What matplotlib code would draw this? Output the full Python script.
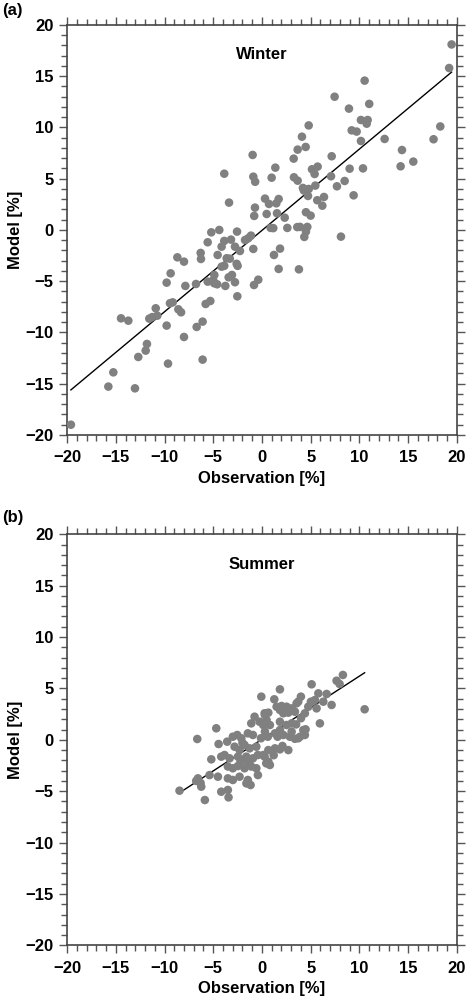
import numpy as np
import matplotlib
matplotlib.use('Agg')
import matplotlib.pyplot as plt
from matplotlib.ticker import MultipleLocator

plt.rcParams['font.family'] = ['Liberation Sans', 'DejaVu Sans']
plt.rcParams['font.weight'] = 'bold'

# winter: observation vs model [%]
winter_obs = [-3.87, -3.38, -0.96, -0.89, -0.7, -0.72, -0.8,
              19.45, 19.2, 10.53, 7.45, 11.0, 8.92, 4.79, 10.15, 10.84, 10.74, 18.29, 9.2, 9.71,
              4.1, 12.58, 17.6, 10.15, 3.66, 4.48, 14.36, 3.25, 7.15, 15.52, 14.22, 1.37, 5.13,
              5.71, 5.4, 8.99, 10.36, 0.99, 3.28, 3.66, 7.08, 8.48, 4.2, 4.5, 4.3, 4.8, 5.47,
              7.69, 4.72, 9.4, 0.31, 1.71, 0.72, 1.47, 5.67, 6.36, 6.19, 0.48, 1.54, 2.33, 4.51,
              4.99, 0.89, 1.16, 2.6, 3.62, 3.9, 4.65,
              4.51, 4.34, 8.1, -1.13, -0.89, 1.85, 1.23, 1.71, 3.79, -0.38, -0.82,
              -19.6, -15.76, -15.25, -13.03, -14.46, -13.71, -12.69, -11.93, -11.8, -11.56, -11.26,
              -10.9, -10.74, -9.78, -9.64, -9.78, -9.37, -9.44, -9.16, -8.68, -8.58, -8.3, -8.0,
              -7.86, -8.0, -6.77, -6.7, -6.29, -6.26, -6.09, -6.09, -5.78, -5.3, -5.57, -5.57,
              -5.2, -4.89, -4.9, -4.6, -5.0, -4.55, -4.38, -4.14, -3.87, -4.14, -3.87, -3.76,
              -3.42, -3.18, -3.62, -3.08, -3.3, -2.77, -2.77, -2.6, -2.5, -2.53, -2.56, -2.26,
              -1.74, -1.4]
winter_mod = [5.49, 2.67, 7.32, 5.2, 4.7, 2.18, 1.37,
              18.1, 15.8, 14.57, 13.0, 12.3, 11.84, 10.2, 10.73, 10.73, 10.37, 10.1, 9.72, 9.6,
              9.1, 8.88, 8.85, 8.68, 7.84, 8.1, 7.8, 6.96, 7.19, 6.67, 6.21, 6.08, 5.92,
              6.18, 5.46, 5.98, 6.01, 5.1, 5.14, 4.81, 5.24, 4.78, 4.1, 3.95, 3.85, 4.0, 4.33,
              4.26, 3.32, 3.38, 3.06, 3.02, 2.54, 2.6, 2.9, 3.22, 2.37, 1.56, 1.63, 1.2, 1.73,
              1.4, 0.2, 0.18, 0.2, 0.28, 0.3, 0.3,
              -0.16, -0.68, -0.65, -0.55, -1.85, -1.82, -2.44, -3.8, -3.84, -4.85, -5.37,
              -19.0, -15.28, -13.89, -15.45, -8.62, -8.85, -12.39, -11.77, -11.12, -8.65, -8.5,
              -7.64, -8.36, -9.33, -13.04, -5.14, -4.23, -7.15, -7.06, -2.67, -7.74, -8.03, -3.09,
              -5.46, -10.44, -5.27, -9.46, -2.24, -2.83, -8.94, -12.65, -7.22, -6.93, -1.2, -5.04,
              -0.23, -4.39, -5.2, -5.3, -4.9, -2.44, 0.0, -1.63, -1.07, -3.58, -3.5, -5.46,
              -4.62, -0.94, -2.76, -4.39, -2.8, -5.1, -1.63, -3.3, -3.5, -6.47, -0.16, -2.05,
              -0.98, -0.8]

# summer: observation vs model [%]
summer_obs = [-8.46, -6.64, -6.57, -6.75, -6.3, -6.23, -5.86, -5.38, -5.2, -4.52, -4.69, -4.45,
              -4.18, -4.18, -3.5, -3.43, -3.84, -3.32, -3.57,
              -3.5, -2.99, -2.3, -1.45, -1.6, -1.17,
              -3.5, -2.99, -2.47, -1.79, -1.1, -0.58, -0.42, -2.2, -1.3, -1.61,
              -2.47, -1.96, -1.45, -0.93, -0.42, 0.27, 0.44, -2.81, -2.3, -1.79, -1.27, -0.58,
              -2.99, -2.54, -2.12, -1.45, -0.93, -0.1, -2.0,
              -0.76, -0.25, 0.27, 0.44, -1.1, -0.07,
              0.13, 0.65, 0.81, 0.65, 1.33, 1.84, 2.7, 1.2, 2.1,
              0.3, 0.6, 1.33, 1.84, 2.19, 2.86, 3.04, 3.38, 3.9, 4.24, 3.72, 4.4, 1.6,
              0.13, 0.47, 0.81, 1.84, 2.52, 3.04, 3.5, 4.0, 4.47, 5.94,
              0.3, 0.65, 1.84, 1.5, 2.01, 2.52, 3.04, 2.7, 2.19, 3.38, 3.55, 4.4, 4.75, 5.6,
              7.14, 2.6,
              1.26, 1.84, 3.72, 3.99, 5.02, 5.43, 5.78, 6.63, 6.29, 5.09, 7.65, 7.96, 8.3, 10.53]
summer_mod = [-4.95, 0.08, -3.75, -4.0, -4.2, -4.56, -5.86, -3.43, -1.9, -3.59, 1.12, -0.41,
              -1.64, -5.05, -4.88, -5.6, -1.48, -1.8, -0.18,
              -3.75, -3.91, -3.59, -3.91, -4.24, -4.4,
              -2.6, -2.77, -2.55, -2.77, -2.6, -2.77, -3.43, -2.13, -2.3, -1.64,
              -1.64, -1.97, -1.97, -1.8, -1.48, -1.64, -2.29, -0.67, -1.0, -0.5, -0.83, -0.67,
              0.3, 0.47, 0.15, 0.63, 0.47, 0.15, -0.3,
              2.25, 1.76, 2.58, 1.6, 1.6, 4.2,
              -1.48, -2.13, -2.45, -1.0, -0.83, -0.93, -1.0, -1.5, -0.6,
              0.8, 0.3, 0.63, 0.95, 0.47, 0.3, 0.79, 0.1, 0.3, 0.95, 0.15, 0.47, 0.3,
              1.44, 1.93, 1.44, 1.76, 1.44, 1.6, 1.5, 2.1, 1.02, 1.6,
              2.41, 2.64, 2.9, 3.22, 3.29, 3.22, 3.06, 2.64, 2.58, 2.73, 3.55, 2.58, 3.22, 3.06,
              3.39, 2.9,
              3.94, 4.91, 3.71, 4.2, 3.71, 3.87, 4.52, 4.46, 3.71, 5.4, 5.75, 5.43, 6.31, 2.97]

# fitted lines (slope, intercept)
winter_fit = (0.794, -0.04)
summer_fit = (0.615, 0.05)

fig = plt.figure(figsize=(4.67, 9.99), dpi=100)

def panel(rect, obs, mod, fit, season, tag, tag_y):
    ax = fig.add_axes(rect)
    ax.scatter(obs, mod, s=38, color='#808080', edgecolors='none', zorder=3)
    xs = np.array([min(obs), max(obs)])
    ax.plot(xs, fit[0] * xs + fit[1], color='black', lw=1.0, zorder=2)
    ax.set_xlim(-20, 20)
    ax.set_ylim(-20, 20)
    ax.xaxis.set_major_locator(MultipleLocator(5))
    ax.yaxis.set_major_locator(MultipleLocator(5))
    ax.xaxis.set_minor_locator(MultipleLocator(1))
    ax.yaxis.set_minor_locator(MultipleLocator(1))
    ax.tick_params(which='both', direction='out', top=True, right=True,
                   labeltop=False, labelright=False, color='#555555', width=1.0)
    ax.tick_params(which='major', length=5.5, labelsize=12)
    ax.tick_params(which='minor', length=4)
    ax.tick_params(axis='x', which='major', pad=5.5)
    ax.tick_params(axis='y', which='major', pad=4)
    for s in ax.spines.values():
        s.set_color('#444444')
        s.set_linewidth(1.2)
    ax.set_xlabel('Observation [%]', fontsize=12, fontweight='bold', labelpad=4)
    ax.set_ylabel('Model [%]', fontsize=12, fontweight='bold', labelpad=2)
    ax.text(0.5, 0.927, season, transform=ax.transAxes, ha='center', va='center',
            fontsize=12, fontweight='bold')
    fig.text(0.004, tag_y, tag, ha='left', va='top', fontsize=12, fontweight='bold')
    return ax

panel([0.1435, 0.5646, 0.835, 0.4104], winter_obs, winter_mod, winter_fit, 'Winter', '(a)', 0.997)
panel([0.1435, 0.0537, 0.835, 0.4115], summer_obs, summer_mod, summer_fit, 'Summer', '(b)', 0.489)

fig.savefig('out.png', dpi=100)
